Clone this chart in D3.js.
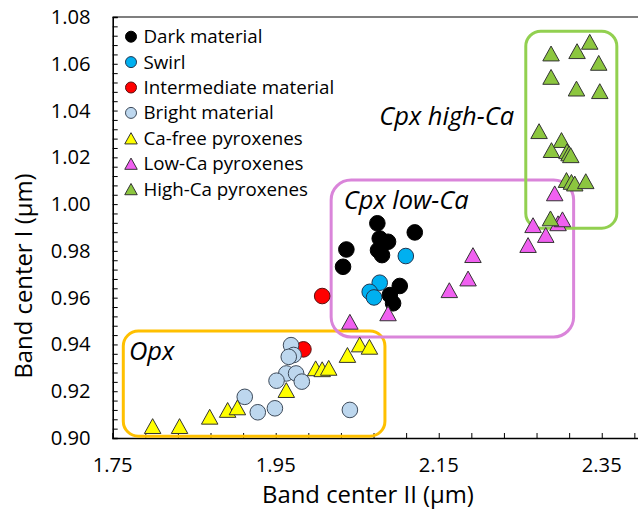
<!DOCTYPE html>
<html>
<head>
<meta charset="utf-8">
<script src="https://cdn.jsdelivr.net/npm/d3@7"></script>
<style>
  html, body { margin: 0; padding: 0; background: #fff; }
  svg { display: block; }
  text { font-family: "Open Sans", "Noto Sans", sans-serif; fill: #000; }
</style>
</head>
<body>
<svg id="chart" width="638" height="513"></svg>
<script>
// Band centers (µm): [Band II, Band I]
const darkMaterial = [
  [2.0747, 0.9918], [2.0776, 0.9853], [2.0878, 0.9839], [2.0755, 0.9803],
  [2.0804, 0.9782], [2.0367, 0.9806], [2.0326, 0.9732], [2.1206, 0.9879],
  [2.1022, 0.9650], [2.0900, 0.9611], [2.0940, 0.9576]
];
const swirl = [
  [2.1096, 0.9778], [2.0776, 0.9664], [2.0653, 0.9625], [2.0706, 0.9601]
];
const intermediateMaterial = [
  [1.9840, 0.9379], [2.0070, 0.9607]
];
const brightMaterial = [
  [1.9688, 0.9397], [1.9720, 0.9355], [1.9660, 0.9347], [1.9630, 0.9276],
  [1.9750, 0.9276], [1.9510, 0.9245], [1.9820, 0.9241], [1.9120, 0.9176],
  [1.9280, 0.9110], [1.9490, 0.9127], [2.0410, 0.9120]
];
const caFreePyroxenes = [
  [1.7990, 0.9051], [1.8320, 0.9051], [1.8690, 0.9091], [1.8910, 0.9120],
  [1.9030, 0.9131], [1.9630, 0.9205], [1.9990, 0.9298], [2.0070, 0.9294],
  [2.0150, 0.9300], [2.0380, 0.9355], [2.0530, 0.9400], [2.0650, 0.9390]
];
const lowCaPyroxenes = [
  [2.0410, 0.9497], [2.0878, 0.9533], [2.1630, 0.9632], [2.1860, 0.9682],
  [2.1920, 0.9782], [2.2596, 0.9825], [2.2657, 0.9910], [2.2813, 0.9868],
  [2.2923, 1.0046], [2.2964, 0.9918], [2.3018, 0.9935]
];
const highCaPyroxenes = [
  [2.2878, 1.0644], [2.3197, 1.0654], [2.3353, 1.0694], [2.3463, 1.0604],
  [2.2878, 1.0544], [2.3190, 1.0494], [2.3476, 1.0483], [2.2731, 1.0312],
  [2.3006, 1.0274], [2.2883, 1.0231], [2.3074, 1.0226], [2.3099, 1.0217],
  [2.3120, 1.0209], [2.3067, 1.0103], [2.3128, 1.0095], [2.3169, 1.0088],
  [2.3304, 1.0098], [2.2871, 0.9939]
];

const xTickLabels = [1.75, 1.95, 2.15, 2.35];
const yTickLabels = [0.90, 0.92, 0.94, 0.96, 0.98, 1.00, 1.02, 1.04, 1.06, 1.08];

// Series drawing order and styling
const series = [
  { name: "Dark material",          data: darkMaterial,         shape: "circle",   fill: "#000000", stroke: "#000000" },
  { name: "Swirl",                  data: swirl,                shape: "circle",   fill: "#00B0F0", stroke: "#1f3550" },
  { name: "Intermediate material",  data: intermediateMaterial, shape: "circle",   fill: "#FF0000", stroke: "#5a1010" },
  { name: "Bright material",        data: brightMaterial,       shape: "circle",   fill: "#BDD7EE", stroke: "#3d4a5a" },
  { name: "Ca-free pyroxenes",      data: caFreePyroxenes,      shape: "triangle", fill: "#FFFF00", stroke: "#333333" },
  { name: "Low-Ca pyroxenes",       data: lowCaPyroxenes,       shape: "triangle", fill: "#F060F0", stroke: "#333333" },
  { name: "High-Ca pyroxenes",      data: highCaPyroxenes,      shape: "triangle", fill: "#8CC63F", stroke: "#333333" }
];

// Compositional fields: [x0, x1, y0, y1] in band-center units, label anchor
const fields = [
  { label: "Opx",         ext: [1.763, 2.084, 0.9008, 0.9457], color: "#FFC000", r: 15, at: [1.770, 0.9335] },
  { label: "Cpx low-Ca",  ext: [2.018, 2.3155, 0.9432, 1.0103], color: "#DA85DA", r: 20, at: [2.0335, 0.9978] },
  { label: "Cpx high-Ca", ext: [2.2568, 2.3685, 0.9897, 1.0739], color: "#92D050", r: 15, at: [2.0770, 1.0338] }
];

const svg = d3.select("#chart");
const W = 638, H = 513;
const margin = { left: 112.7, top: 17, right: -4.5, bottom: 75 };
const plotW = W - margin.left - margin.right;
const plotH = H - margin.top - margin.bottom;

const x = d3.scaleLinear().domain([1.75, 2.40]).range([margin.left, margin.left + plotW]);
const y = d3.scaleLinear().domain([0.90, 1.08]).range([margin.top + plotH, margin.top]);

// Pick a font size so that a sample string spans the wanted width
function fitSize(sample, width, style) {
  const t = svg.append("text").style("font-size", "20px").style("font-style", style || "normal").text(sample);
  const len = t.node().getComputedTextLength();
  t.remove();
  return 20 * width / len;
}

// Triangle symbol centred on its bounding box
const triangleSym = {
  draw(ctx, size) {
    const w = Math.sqrt(size);
    const h = w * 0.9;
    ctx.moveTo(0, -h / 2);
    ctx.lineTo(w / 2, h / 2);
    ctx.lineTo(-w / 2, h / 2);
    ctx.closePath();
  }
};

function symbolPath(shape, big) {
  if (shape === "circle") return d3.symbol().type(d3.symbolCircle).size(big ? Math.PI * 7.8 * 7.8 : Math.PI * 5.5 * 5.5)();
  return d3.symbol().type(triangleSym).size(big ? 16.5 * 16.5 : 12.5 * 12.5)();
}

const tickSize = fitSize("1.08", 40);
const titleSize = fitSize("Band center II (\u00b5m)", 212);
const legendSize = fitSize("Dark material", 119);

// Plot frame (top edge + axes)
svg.append("line")
  .attr("x1", x(1.75)).attr("x2", W + 10)
  .attr("y1", y(1.08)).attr("y2", y(1.08))
  .attr("stroke", "#000").attr("stroke-width", 1.2);

// Axes with inward tick marks
const xAxis = d3.axisBottom(x)
  .tickValues(d3.range(0, 17).map(i => +(1.75 + i * 0.04).toFixed(2)))
  .tickSize(-5).tickFormat("");
const gx = svg.append("g").attr("transform", `translate(0,${y(0.90)})`).call(xAxis);
gx.select(".domain").attr("stroke", "#000").attr("stroke-width", 1.6);
gx.selectAll(".tick line").attr("stroke", "#000").attr("stroke-width", 1);

const yAxis = d3.axisLeft(y)
  .tickValues(d3.range(0, 46).map(i => +(0.90 + i * 0.004).toFixed(3)))
  .tickSize(-5).tickFormat("");
const gy = svg.append("g").attr("transform", `translate(${x(1.75)},0)`).call(yAxis);
gy.select(".domain").attr("stroke", "#000").attr("stroke-width", 1.6);
gy.selectAll(".tick line").attr("stroke", "#000").attr("stroke-width", 1);

// Tick labels
svg.append("g").selectAll("text").data(xTickLabels).join("text")
  .attr("x", d => x(d)).attr("y", y(0.90) + 34)
  .attr("text-anchor", "middle")
  .style("font-size", tickSize + "px")
  .text(d => d.toFixed(2));

svg.append("g").selectAll("text").data(yTickLabels).join("text")
  .attr("x", x(1.75) - 22).attr("y", d => y(d) + 7)
  .attr("text-anchor", "end")
  .style("font-size", tickSize + "px")
  .text(d => d.toFixed(2));

// Axis titles
svg.append("text")
  .attr("x", 368).attr("y", 503)
  .attr("text-anchor", "middle")
  .style("font-size", titleSize + "px")
  .text("Band center II (\u00b5m)");

svg.append("text")
  .attr("transform", `translate(32,${276}) rotate(-90)`)
  .attr("text-anchor", "middle")
  .style("font-size", titleSize + "px")
  .text("Band center I (\u00b5m)");

// Compositional field outlines
svg.append("g").selectAll("rect").data(fields).join("rect")
  .attr("x", d => x(d.ext[0]))
  .attr("y", d => y(d.ext[3]))
  .attr("width", d => x(d.ext[1]) - x(d.ext[0]))
  .attr("height", d => y(d.ext[2]) - y(d.ext[3]))
  .attr("rx", d => d.r).attr("ry", d => d.r)
  .attr("fill", "none")
  .attr("stroke", d => d.color)
  .attr("stroke-width", 3);

// Field labels
const fieldSize = fitSize("Cpx high-Ca", 135, "italic");
svg.append("g").selectAll("text").data(fields).join("text")
  .attr("x", d => x(d.at[0]))
  .attr("y", d => y(d.at[1]))
  .style("font-size", fieldSize + "px")
  .style("font-style", "italic")
  .text(d => d.label);

// Data markers
const marks = svg.append("g");
series.forEach(s => {
  marks.append("g").selectAll("path").data(s.data).join("path")
    .attr("d", symbolPath(s.shape, true))
    .attr("transform", d => `translate(${x(d[0])},${y(d[1])})`)
    .attr("fill", s.fill)
    .attr("stroke", s.stroke)
    .attr("stroke-width", 1);
});

// Legend
const legend = svg.append("g").attr("transform", "translate(131,36.7)");
const rows = legend.selectAll("g").data(series).join("g")
  .attr("transform", (d, i) => `translate(0,${i * 25.4})`);
rows.append("path")
  .attr("d", d => symbolPath(d.shape, false))
  .attr("fill", d => d.fill)
  .attr("stroke", d => d.stroke)
  .attr("stroke-width", 1);
rows.append("text")
  .attr("x", 12.5).attr("y", 6.5)
  .style("font-size", legendSize + "px")
  .text(d => d.name);
</script>
</body>
</html>
